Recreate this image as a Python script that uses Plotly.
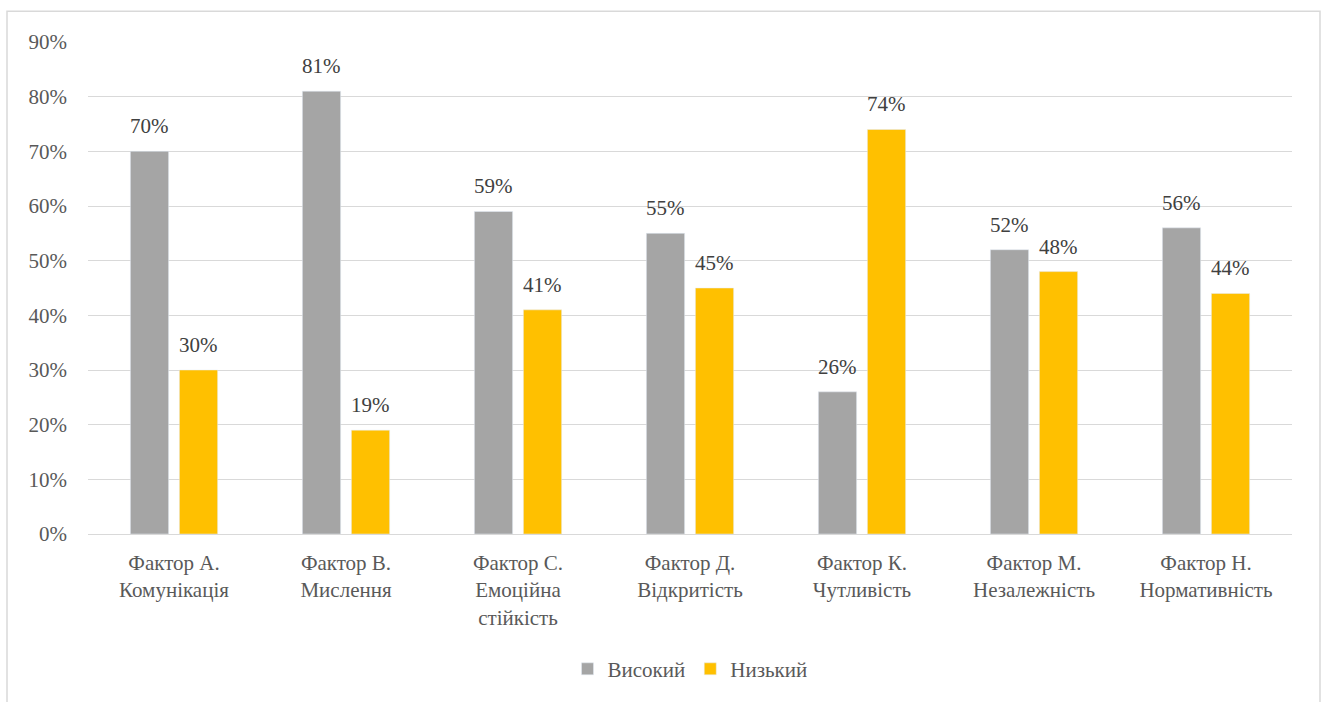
import plotly.graph_objects as go

categories = ["Фактор А.<br>Комунікація", "Фактор В.<br>Мислення", "Фактор С.<br>Емоційна<br>стійкість",
              "Фактор Д.<br>Відкритість", "Фактор К.<br>Чутливість", "Фактор М.<br>Незалежність",
              "Фактор Н.<br>Нормативність"]
high = [70, 81, 59, 55, 26, 52, 56]
low = [30, 19, 41, 45, 74, 48, 44]
series_names = ["Високий", "Низький"]

FONT = "'Liberation Serif', 'Times New Roman', serif"
W, H = 1325, 702
L, R, T, B = 88, 33, 42, 165
pw, ph = W - L - R, H - T - B
BARGAP = 0.43

def px_x(x):
    return (x - L) / pw

def px_y(y):
    return (H - B - y) / ph

fig = go.Figure()
fig.add_bar(x=categories, y=high, name=series_names[0], marker_color="#A5A5A5", cliponaxis=False)
fig.add_bar(x=categories, y=low, name=series_names[1], marker_color="#FFC000", cliponaxis=False)

bar_offset = (1 - BARGAP) / 4  # category units between group center and each bar center
annotations = []
for i, (h, l) in enumerate(zip(high, low)):
    annotations.append(dict(x=i - bar_offset, y=h, xref="x", yref="y", text=f"{h}%",
                            showarrow=False, yanchor="bottom", yshift=11,
                            font=dict(family=FONT, size=21, color="#404040")))
    annotations.append(dict(x=i + bar_offset, y=l, xref="x", yref="y", text=f"{l}%",
                            showarrow=False, yanchor="bottom", yshift=11,
                            font=dict(family=FONT, size=21, color="#404040")))

fig.update_layout(
    width=W, height=H,
    margin=dict(l=L, r=R, t=T, b=B),
    paper_bgcolor="white", plot_bgcolor="white",
    font=dict(family=FONT, size=21, color="#595959"),
    barmode="group", bargap=BARGAP, bargroupgap=0.22,
    showlegend=True,
    legend=dict(orientation="h", x=0.5, xanchor="center", y=px_y(673), yanchor="middle",
                font=dict(family=FONT, size=21, color="#595959"), itemwidth=30),
    xaxis=dict(showgrid=False, showline=False, ticks="", tickangle=0,
               tickfont=dict(family=FONT, size=21, color="#595959"), ticklabelstandoff=14),
    yaxis=dict(range=[0, 90], dtick=10, ticksuffix="%", showgrid=True, gridcolor="#D9D9D9",
               gridwidth=1, zeroline=True, zerolinecolor="#D9D9D9", zerolinewidth=1,
               tickfont=dict(family=FONT, size=21, color="#595959"), ticklabelstandoff=20),
    annotations=annotations,
    shapes=[dict(type="rect", xref="paper", yref="paper",
                 x0=px_x(7), x1=px_x(1320), y0=px_y(720), y1=px_y(11),
                 line=dict(color="#D9D9D9", width=1.5), fillcolor="rgba(0,0,0,0)", layer="below")],
)

fig.write_html("out.html")
